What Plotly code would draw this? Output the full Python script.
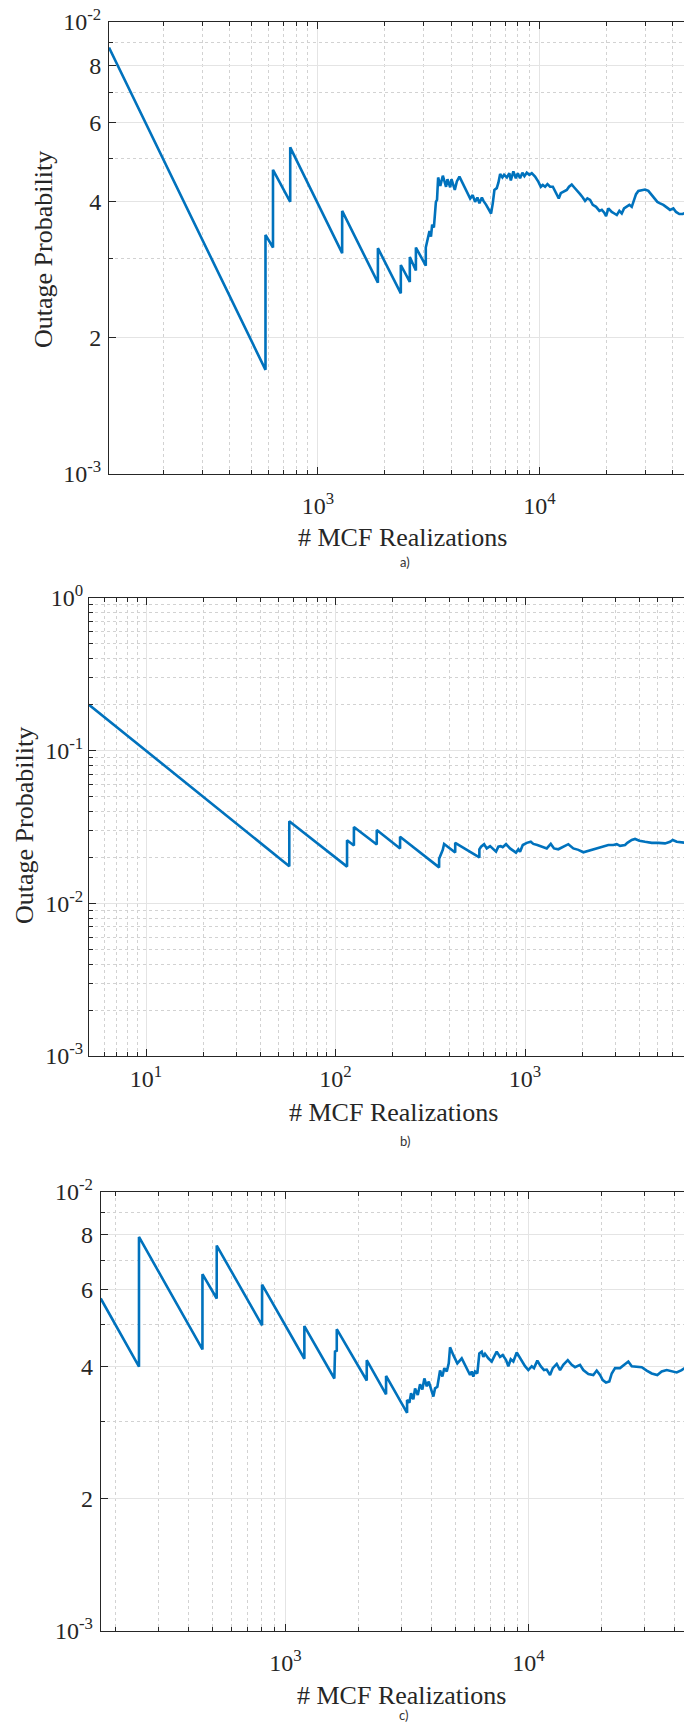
import plotly.graph_objects as go

# ---------------- data ----------------
# Panel a)
a_n = [114, 580, 580, 627, 627, 750, 750, 1287, 1287, 1866, 1866, 2368, 2368, 2600, 2600,
       2770, 2770, 3070, 3070, 3150, 3190, 3240, 3280, 3340, 3360, 3410, 3450, 3490, 3570,
       3665, 3790, 3845, 3955, 4010, 4150, 4240, 4355, 4870, 5000, 5125, 5250, 5360, 5500,
       5590, 5750, 5890, 6050, 6160, 6265, 6420, 6530, 6650, 6810, 6930, 7130, 7320, 7430,
       7630, 7830, 7990, 8180, 8380, 8560, 8770, 9010, 9240, 9560, 9900, 10150, 10360, 10610,
       10870, 11180, 11500, 11900, 12230, 12490, 12830, 13290, 13610, 14000, 14340, 14750,
       15270, 15700, 16080, 16470, 16940, 17420, 18030, 18660, 19130, 19590, 20000, 20480,
       21220, 21800, 22360, 22960, 23540, 24110, 24800, 25470, 26120, 26750, 27310, 27980,
       28980, 29990, 31040, 32160, 33280, 34090, 35060, 36280, 37580, 38890, 40250, 41400,
       42840, 44370, 46260, 47530, 50000]
a_p = [8.78e-3, 1.70e-3, 3.38e-3, 3.17e-3, 4.71e-3, 4.00e-3, 5.28e-3, 3.08e-3, 3.82e-3,
       2.65e-3, 3.16e-3, 2.51e-3, 2.90e-3, 2.66e-3, 3.02e-3, 2.82e-3, 3.17e-3, 2.89e-3,
       3.17e-3, 3.35e-3, 3.45e-3, 3.35e-3, 3.56e-3, 3.51e-3, 3.63e-3, 4.00e-3, 4.04e-3,
       4.53e-3, 4.34e-3, 4.57e-3, 4.32e-3, 4.49e-3, 4.31e-3, 4.49e-3, 4.25e-3, 4.44e-3,
       4.55e-3, 4.07e-3, 4.14e-3, 4.00e-3, 4.09e-3, 3.97e-3, 4.09e-3, 4.02e-3, 3.94e-3,
       3.87e-3, 3.77e-3, 3.97e-3, 4.25e-3, 4.29e-3, 4.41e-3, 4.61e-3, 4.53e-3, 4.59e-3,
       4.53e-3, 4.63e-3, 4.46e-3, 4.67e-3, 4.51e-3, 4.63e-3, 4.51e-3, 4.64e-3, 4.56e-3,
       4.64e-3, 4.59e-3, 4.63e-3, 4.55e-3, 4.43e-3, 4.32e-3, 4.36e-3, 4.32e-3, 4.38e-3,
       4.32e-3, 4.32e-3, 4.18e-3, 4.07e-3, 4.18e-3, 4.21e-3, 4.25e-3, 4.32e-3, 4.37e-3,
       4.31e-3, 4.25e-3, 4.16e-3, 4.09e-3, 4.02e-3, 4.07e-3, 4.04e-3, 3.94e-3, 3.90e-3,
       3.82e-3, 3.84e-3, 3.79e-3, 3.72e-3, 3.87e-3, 3.80e-3, 3.77e-3, 3.74e-3, 3.82e-3,
       3.77e-3, 3.87e-3, 3.90e-3, 3.94e-3, 3.90e-3, 4.04e-3, 4.16e-3, 4.23e-3, 4.25e-3,
       4.26e-3, 4.23e-3, 4.14e-3, 4.07e-3, 4.00e-3, 3.97e-3, 3.94e-3, 3.89e-3, 3.84e-3,
       3.87e-3, 3.80e-3, 3.76e-3, 3.76e-3, 3.80e-3, 3.78e-3, 3.79e-3]

# Panel b)
b_n = [5, 57, 57, 115, 115, 125, 125, 165, 165, 219, 219, 352, 352, 363, 368, 374, 428, 428,
       574, 574, 586, 608, 628, 654, 680, 703, 723, 744, 762, 794, 833, 868, 896, 922, 941,
       973, 1021, 1072, 1106, 1161, 1225, 1302, 1367, 1422, 1498, 1581, 1692, 1798, 1911,
       2031, 2158, 2293, 2437, 2590, 2751, 2924, 3047, 3172, 3371, 3466, 3657, 3806, 4011,
       4298, 4663, 5051, 5481, 5823, 6017, 6318, 6845, 7516, 8000]
b_p = [0.2, 0.0175, 0.0345, 0.0174, 0.0259, 0.0239, 0.0316, 0.0243, 0.0302, 0.0229, 0.0273,
       0.0172, 0.0196, 0.0213, 0.0224, 0.0245, 0.0215, 0.0249, 0.0200, 0.0226, 0.0235,
       0.0244, 0.0229, 0.0237, 0.0226, 0.0218, 0.0235, 0.0237, 0.0233, 0.0244, 0.0229,
       0.0221, 0.0215, 0.0226, 0.0218, 0.0241, 0.0249, 0.0253, 0.0245, 0.0241, 0.0235,
       0.0229, 0.0245, 0.0229, 0.0226, 0.0233, 0.0244, 0.0229, 0.0224, 0.0216, 0.0221,
       0.0226, 0.0233, 0.0238, 0.0241, 0.0241, 0.0244, 0.0238, 0.0241, 0.0249, 0.0260,
       0.0264, 0.0257, 0.0253, 0.0249, 0.0249, 0.0247, 0.0253, 0.0260, 0.0253, 0.0249,
       0.0247, 0.0247]

# Panel c)
c_n = [174, 250, 250, 456, 456, 522, 522, 802, 802, 1197, 1197, 1590, 1600, 1627, 1627, 2161,
       2161, 2595, 2595, 3166, 3166, 3236, 3288, 3360, 3415, 3503, 3580, 3659, 3729, 3815,
       3888, 4061, 4126, 4217, 4326, 4422, 4506, 4610, 4698, 4756, 4907, 5096, 5313, 5747,
       5839, 5929, 6025, 6158, 6276, 6420, 6518, 6624, 6834, 7057, 7212, 7399, 7634, 7833,
       8083, 8260, 8450, 8660, 8943, 9228, 9674, 9982, 10310, 10530, 10870, 11220, 11580,
       11880, 12260, 12580, 13060, 13480, 13900, 14500, 15050, 15530, 16280, 16800, 17620,
       18470, 19070, 19680, 20190, 20830, 21490, 21990, 22690, 23780, 24940, 25730, 26570,
       27860, 29210, 30620, 32110, 33860, 35290, 37010, 38800, 40680, 42650, 44430, 47020,
       50000]
c_p = [5.72e-3, 4.00e-3, 7.90e-3, 4.38e-3, 6.50e-3, 5.72e-3, 7.55e-3, 4.97e-3, 6.15e-3,
       4.17e-3, 4.95e-3, 3.76e-3, 4.33e-3, 4.35e-3, 4.87e-3, 3.72e-3, 4.14e-3, 3.46e-3,
       3.81e-3, 3.14e-3, 3.36e-3, 3.31e-3, 3.48e-3, 3.37e-3, 3.57e-3, 3.45e-3, 3.65e-3,
       3.55e-3, 3.76e-3, 3.61e-3, 3.70e-3, 3.42e-3, 3.57e-3, 3.60e-3, 3.92e-3, 3.80e-3,
       3.97e-3, 3.90e-3, 4.07e-3, 4.43e-3, 4.25e-3, 4.07e-3, 4.18e-3, 3.83e-3, 3.90e-3,
       3.80e-3, 3.90e-3, 3.86e-3, 4.29e-3, 4.33e-3, 4.21e-3, 4.28e-3, 4.18e-3, 4.11e-3,
       4.21e-3, 4.33e-3, 4.21e-3, 4.25e-3, 4.14e-3, 4.01e-3, 4.16e-3, 4.11e-3, 4.31e-3,
       4.18e-3, 4.01e-3, 3.93e-3, 4.01e-3, 3.97e-3, 4.13e-3, 4.01e-3, 3.93e-3, 3.94e-3,
       3.83e-3, 3.97e-3, 4.06e-3, 3.93e-3, 4.04e-3, 4.14e-3, 4.04e-3, 3.99e-3, 4.04e-3,
       3.93e-3, 3.85e-3, 3.83e-3, 3.92e-3, 3.83e-3, 3.73e-3, 3.68e-3, 3.70e-3, 3.86e-3,
       3.97e-3, 3.97e-3, 4.06e-3, 4.11e-3, 4.01e-3, 4.00e-3, 3.99e-3, 3.92e-3, 3.86e-3,
       3.83e-3, 3.90e-3, 3.93e-3, 3.90e-3, 3.88e-3, 3.93e-3, 3.99e-3, 3.97e-3, 3.97e-3]

# tick labels
a_xticks = [1e3, 1e4]
a_xtext = ["10<sup>3</sup>", "10<sup>4</sup>"]
a_yticks = [1e-3, 2e-3, 4e-3, 6e-3, 8e-3, 1e-2]
a_ytext = ["10<sup>-3</sup>", "2", "4", "6", "8", "10<sup>-2</sup>"]
b_xticks = [1e1, 1e2, 1e3]
b_xtext = ["10<sup>1</sup>", "10<sup>2</sup>", "10<sup>3</sup>"]
b_yticks = [1e-3, 1e-2, 1e-1, 1e0]
b_ytext = ["10<sup>-3</sup>", "10<sup>-2</sup>", "10<sup>-1</sup>", "10<sup>0</sup>"]
c_xticks = [1e3, 1e4]
c_xtext = ["10<sup>3</sup>", "10<sup>4</sup>"]
c_yticks = a_yticks
c_ytext = a_ytext

x_title = "# MCF Realizations"
y_title = "Outage Probability"
panel_labels = ["a)", "b)", "c)"]

# ---------------- styling ----------------
W, H = 692, 1725
OFF = 8          # page body margin of the html page
SERIF = "Liberation Serif"
AXC = "#262626"
LINEC = "#0072BD"
MAJ_GRID = "#e4e4e4"
MIN_GRID = "#d2d2d2"
TICKFONT = dict(family=SERIF, size=24, color=AXC)


def minor_vals(lo_exp, hi_exp, skip=()):
    out = []
    for e in range(lo_exp, hi_exp + 1):
        for m in range(2, 10):
            if m in skip:
                continue
            out.append(m * 10.0 ** e)
    return out


def px2x(px):
    return (px - OFF) / W


def py2y(py):
    return 1 - (py - OFF) / H


XEND = (692 - OFF) / W


def axis_cfg(dom, rng, anchor, tv, tt, mv, standoff, mirror):
    return dict(type="log", domain=dom, range=rng, anchor=anchor, automargin=False,
                showline=True, linecolor=AXC, linewidth=1, mirror=mirror,
                ticks="inside", ticklen=7, tickwidth=1, tickcolor=AXC,
                tickmode="array", tickvals=tv, ticktext=tt, tickfont=TICKFONT,
                ticklabelstandoff=standoff, ticklabeloverflow="allow",
                showgrid=True, gridcolor=MAJ_GRID, gridwidth=1, zeroline=False,
                minor=dict(tickmode="array", tickvals=mv, ticks="inside", ticklen=4,
                           tickcolor=AXC, showgrid=True, gridcolor=MIN_GRID,
                           griddash="dot", gridwidth=1))


fig = go.Figure()
fig.add_trace(go.Scatter(x=a_n, y=a_p, mode="lines", line=dict(color=LINEC, width=2.6),
                         xaxis="x", yaxis="y", showlegend=False))
fig.add_trace(go.Scatter(x=b_n, y=b_p, mode="lines", line=dict(color=LINEC, width=2.6),
                         xaxis="x2", yaxis="y2", showlegend=False))
fig.add_trace(go.Scatter(x=c_n, y=c_p, mode="lines", line=dict(color=LINEC, width=2.6),
                         xaxis="x3", yaxis="y3", showlegend=False))

# panel geometry (image pixels)
a_left, a_top, a_bot = 109, 22, 474
b_left, b_top, b_bot = 89, 598, 1056
c_left, c_top, c_bot = 100.7, 1192, 1631

fig.update_layout(
    template="none",
    width=W, height=H, margin=dict(l=0, r=0, t=0, b=0, pad=0, autoexpand=False),
    paper_bgcolor="white", plot_bgcolor="white",
    font=dict(family=SERIF, size=24, color=AXC),
    showlegend=False,
    xaxis=axis_cfg([px2x(a_left), XEND], [2.0569, 4.689], "y", a_xticks, a_xtext,
                   minor_vals(2, 4), 10, "allticks"),
    yaxis=axis_cfg([py2y(a_bot), py2y(a_top)], [-3, -2], "x", a_yticks, a_ytext,
                   minor_vals(-3, -3, skip=(2, 4, 6, 8)), 2, False),
    xaxis2=axis_cfg([px2x(b_left), XEND], [0.699, 3.881], "y2", b_xticks, b_xtext,
                    minor_vals(0, 3), 1, "allticks"),
    yaxis2=axis_cfg([py2y(b_bot), py2y(b_top)], [-3, 0], "x2", b_yticks, b_ytext,
                    minor_vals(-3, -1), 0, False),
    xaxis3=axis_cfg([px2x(c_left), XEND], [2.2405, 4.6723], "y3", c_xticks, c_xtext,
                    minor_vals(2, 4), 10, "allticks"),
    yaxis3=axis_cfg([py2y(c_bot), py2y(c_top)], [-3, -2], "x3", c_yticks, c_ytext,
                    minor_vals(-3, -3, skip=(2, 4, 6, 8)), 2, False),
)

ann = []
tfont = dict(family=SERIF, size=26, color=AXC)
lfont = dict(family="Lato", size=13, color="#333333")
# y titles (panels a and b only)
ann.append(dict(text=y_title, x=px2x(43), y=py2y(250), xref="paper", yref="paper",
                textangle=-90, showarrow=False, font=tfont, xanchor="center", yanchor="middle"))
ann.append(dict(text=y_title, x=px2x(24), y=py2y(826), xref="paper", yref="paper",
                textangle=-90, showarrow=False, font=tfont, xanchor="center", yanchor="middle"))
# x titles
for xc, yc in [(402, 537), (393, 1112), (401, 1695)]:
    ann.append(dict(text=x_title, x=px2x(xc), y=py2y(yc), xref="paper", yref="paper",
                    showarrow=False, font=tfont, xanchor="center", yanchor="middle"))
# panel labels
for lab, (xc, yc) in zip(panel_labels, [(405, 562), (405, 1141), (403, 1715)]):
    ann.append(dict(text=lab, x=px2x(xc), y=py2y(yc), xref="paper", yref="paper",
                    showarrow=False, font=lfont, xanchor="center", yanchor="middle"))
fig.update_layout(annotations=ann)

fig.write_html("out.html")
